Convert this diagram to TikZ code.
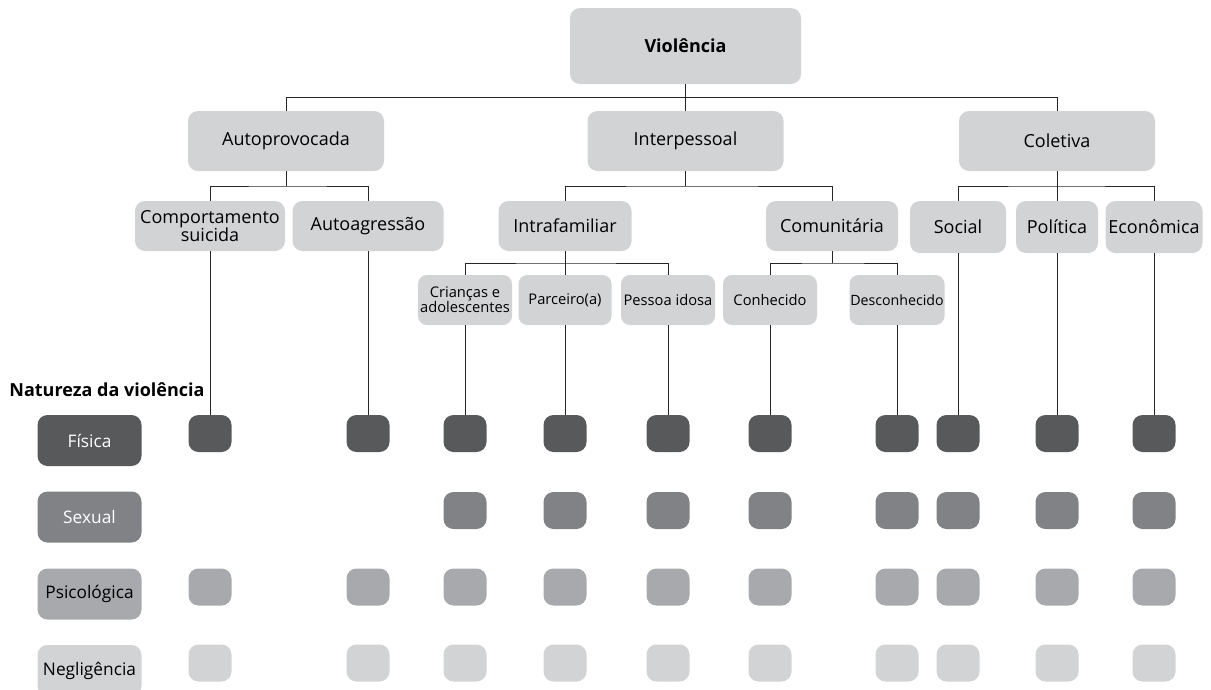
\documentclass[tikz,border=0pt]{standalone}
\usepackage{fontspec}
\setmainfont{Open Sans}
\usetikzlibrary{calc}

\definecolor{fisica}{HTML}{58595B}
\definecolor{sexual}{HTML}{808285}
\definecolor{psico}{HTML}{A7A9AC}
\definecolor{negli}{HTML}{D1D3D4}

\tikzset{
  box/.style={rounded corners=10pt, fill=negli, align=center, inner sep=0pt, font=\fontsize{18}{18}\selectfont},
  leaf/.style={box, rounded corners=9pt, minimum height=50pt, font=\fontsize{14.7}{15}\selectfont},
  tag/.style={rounded corners=10pt, minimum width=104pt, minimum height=51pt, inner sep=0pt, font=\fontsize{17.3}{17.3}\selectfont},
  sqr/.style={rounded corners=10pt, minimum width=43pt, minimum height=37pt, inner sep=0pt},
  link/.style={line width=1pt, black!85}
}

\begin{document}
\begin{tikzpicture}[x=1pt,y=-1pt]
\useasboundingbox (0,0) rectangle (1211,689);

\node[box, minimum width=231pt, minimum height=76pt, font=\fontsize{18}{18}\selectfont\bfseries] (viol) at (685.5,46) {Violência};
\node[box, minimum width=196pt, minimum height=60pt] (auto) at (286,141) {Autoprovocada};
\node[box, minimum width=196pt, minimum height=60pt] (inter) at (685.5,141) {Interpessoal};
\node[box, minimum width=196pt, minimum height=60pt] (colet) at (1057,141) {Coletiva};

\node[box, minimum width=150pt, minimum height=50pt] (comp) at (210,226) {Comportamento\\suicida};
\node[box, minimum width=151pt, minimum height=50pt] (autoag) at (368,226) {Autoagressão};
\node[box, minimum width=133pt, minimum height=50pt] (intraf) at (565,226) {Intrafamiliar};
\node[box, minimum width=132pt, minimum height=50pt] (comun) at (832,226) {Comunitária};
\node[box, minimum width=96pt, minimum height=52pt] (social) at (958,227) {Social};
\node[box, minimum width=82pt, minimum height=52pt] (polit) at (1057,227) {Política};
\node[box, minimum width=97pt, minimum height=52pt] (econ) at (1154,227) {Econômica};

\node[leaf, minimum width=94pt] (crian) at (465,300) {Crianças e\\adolescentes};
\node[leaf, minimum width=93pt] (parc) at (565,300) {Parceiro(a)};
\node[leaf, minimum width=94pt] (idosa) at (668,300) {Pessoa idosa};
\node[leaf, minimum width=94pt] (conh) at (770,300) {Conhecido};
\node[leaf, minimum width=95pt, font=\fontsize{14.2}{15}\selectfont] (desc) at (897,300) {Desconhecido};

\node[font=\fontsize{18}{18}\selectfont\bfseries] (natureza) at (107,390) {Natureza da violência};
\node[tag, fill=fisica, text=white] (tfis) at (89.5,440.5) {Física};
\node[tag, fill=sexual, text=white] (tsex) at (89.5,517) {Sexual};
\node[tag, fill=psico] (tpsi) at (89.5,594) {Psicológica};
\node[tag, fill=negli] (tneg) at (89.5,670.5) {Negligência};

\foreach \x [count=\i] in {210,368,465,565,668,770,897,958,1057,1154} {
  \node[sqr, fill=fisica] (f\i) at (\x,433.5) {};
  \ifnum\i>2 \node[sqr, fill=sexual] (s\i) at (\x,510.5) {}; \fi
  \node[sqr, fill=psico] (p\i) at (\x,587) {};
  \node[sqr, fill=negli] (n\i) at (\x,663) {};
}

\coordinate (b0) at ($(viol.south)!.5!(inter.north)$);
\coordinate (b1) at ($(auto.south)!.5!(auto.south |- comp.north)$);
\coordinate (b2) at ($(inter.south)!.5!(inter.south |- intraf.north)$);
\coordinate (b3) at ($(colet.south)!.5!(polit.north)$);
\coordinate (b4) at ($(intraf.south)!.5!(parc.north)$);
\coordinate (b5) at ($(comun.south)!.5!(comun.south |- conh.north)$);

\draw[link] (viol) -- (inter);
\draw[link] (auto.north) |- (b0) -| (colet.north);
\draw[link] (auto.south) -- (b1);
\draw[link] (comp.north) |- (b1) -| (autoag.north);
\draw[link] (inter.south) -- (b2);
\draw[link] (intraf.north) |- (b2) -| (comun.north);
\draw[link] (colet) -- (polit);
\draw[link] (social.north) |- (b3) -| (econ.north);
\draw[link] (intraf) -- (parc);
\draw[link] (crian.north) |- (b4) -| (idosa.north);
\draw[link] (comun.south) -- (b5);
\draw[link] (conh.north) |- (b5) -| (desc.north);

\draw[link] (comp) -- (f1);
\draw[link] (autoag) -- (f2);
\draw[link] (crian) -- (f3);
\draw[link] (parc) -- (f4);
\draw[link] (idosa) -- (f5);
\draw[link] (conh) -- (f6);
\draw[link] (desc) -- (f7);
\draw[link] (social) -- (f8);
\draw[link] (polit) -- (f9);
\draw[link] (econ) -- (f10);
\end{tikzpicture}
\end{document}
